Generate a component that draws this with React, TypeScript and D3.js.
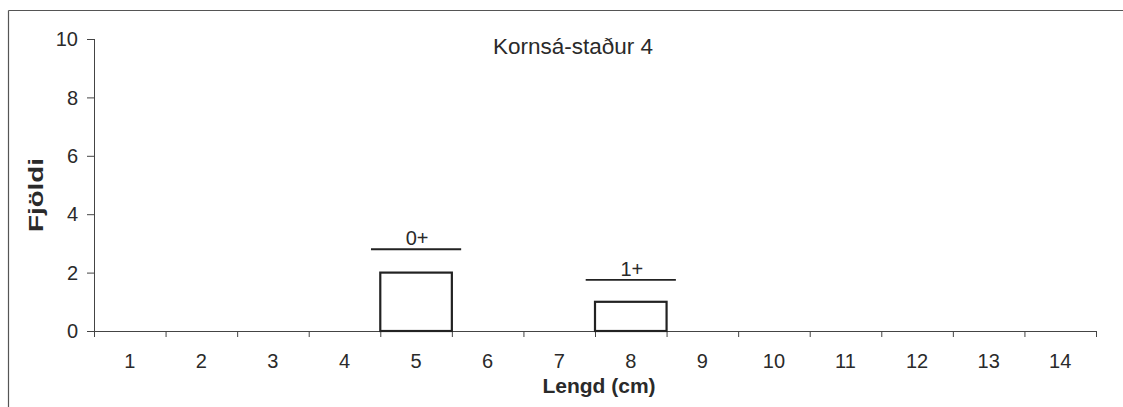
import React from "react";
import * as d3 from "d3";

const categories = ["1", "2", "3", "4", "5", "6", "7", "8", "9", "10", "11", "12", "13", "14"];
const counts = [0, 0, 0, 0, 2, 0, 0, 1, 0, 0, 0, 0, 0, 0];
const yTicks = [0, 2, 4, 6, 8, 10];
const ageLabels = ["0+", "1+"];
const ageCategories = ["5", "8"];
const ageLevels = [2.8, 1.75];
const title = "Kornsá-staður 4";
const xTitle = "Lengd (cm)";
const yTitle = "Fjöldi";

const W = 1123;
const H = 407;
const left = 94;
const right = 1096;
const top = 39;
const bottom = 331;

export default function App() {
  const x = d3.scaleBand().domain(categories).range([left, right]).padding(0);
  const y = d3.scaleLinear().domain([0, 10]).range([bottom, top]);
  const bw = x.bandwidth();
  const font = "Arial, 'Liberation Sans', sans-serif";
  const ink = "#2a2a2a";
  const boundaries = d3.range(categories.length + 1).map((i) => left + i * bw);

  return (
    <svg
      width={W}
      height={H}
      style={{ position: "fixed", left: 0, top: 0, background: "#fff" }}
      fontFamily={font}
    >
      <rect x={0} y={0} width={W} height={H} fill="#ffffff" />
      {/* outer frame */}
      <line x1={8.5} y1={10.5} x2={W} y2={10.5} stroke="#555" strokeWidth={1.2} />
      <line x1={8.5} y1={10.5} x2={8.5} y2={H} stroke="#555" strokeWidth={1.2} />

      {/* title */}
      <text x={573} y={54} textAnchor="middle" fontSize={22.5} fill={ink}>
        {title}
      </text>

      {/* y axis */}
      <line x1={left + 0.5} y1={y(10)} x2={left + 0.5} y2={y(0)} stroke="#444" strokeWidth={1} />
      {yTicks.map((t) => (
        <g key={t}>
          <line x1={left - 7} x2={left + 0.5} y1={y(t) + 0.5} y2={y(t) + 0.5} stroke="#444" strokeWidth={1} />
          <text x={left - 16} y={y(t)} dy="0.36em" textAnchor="end" fontSize={20} fill={ink}>
            {t}
          </text>
        </g>
      ))}
      <text
        transform={`translate(43, ${195}) rotate(-90)`}
        textAnchor="middle"
        fontSize={21}
        fontWeight="bold"
        textLength={74}
        lengthAdjust="spacingAndGlyphs"
        fill={ink}
      >
        {yTitle}
      </text>

      {/* x axis */}
      <line x1={left} y1={y(0) + 0.5} x2={right} y2={y(0) + 0.5} stroke="#444" strokeWidth={1.2} />
      {boundaries.map((b, i) => (
        <line key={i} x1={b + 0.5} x2={b + 0.5} y1={y(0)} y2={y(0) + 6} stroke="#444" strokeWidth={1} />
      ))}
      {categories.map((c) => (
        <text key={c} x={(x(c) as number) + bw / 2} y={368} textAnchor="middle" fontSize={20} fill={ink}>
          {c}
        </text>
      ))}
      <text x={599} y={393} textAnchor="middle" fontSize={21} fontWeight="bold" fill={ink}>
        {xTitle}
      </text>

      {/* bars */}
      {categories.map((c, i) =>
        counts[i] > 0 ? (
          <rect
            key={c}
            x={x(c) as number}
            y={y(counts[i])}
            width={bw}
            height={y(0) - y(counts[i])}
            fill="#fff"
            stroke="#222"
            strokeWidth={2.2}
          />
        ) : null
      )}

      {/* age group annotations */}
      {ageLabels.map((lab, i) => {
        const cx = (x(ageCategories[i]) as number) + bw / 2;
        const half = bw * 0.63;
        const ly = y(ageLevels[i]);
        return (
          <g key={lab}>
            <line x1={cx - half} x2={cx + half} y1={ly} y2={ly} stroke="#222" strokeWidth={1.8} />
            <text x={cx + 1} y={ly - 4} textAnchor="middle" fontSize={20} fill={ink}>
              {lab}
            </text>
          </g>
        );
      })}
    </svg>
  );
}
